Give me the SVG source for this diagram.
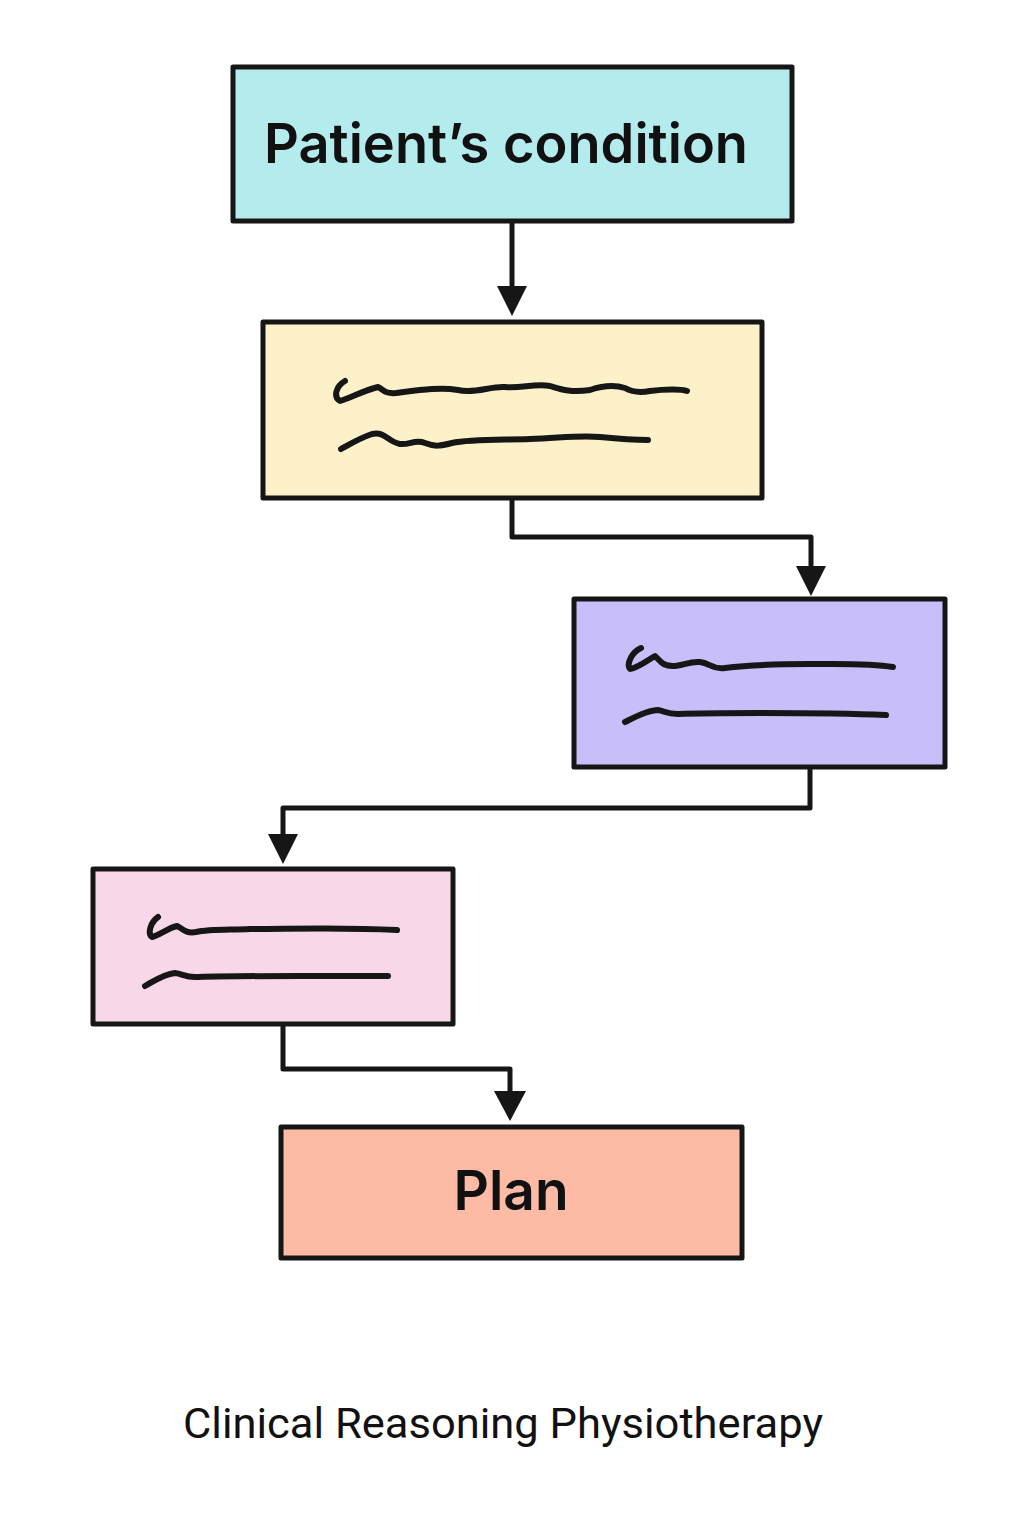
<svg xmlns="http://www.w3.org/2000/svg" width="1024" height="1536" viewBox="0 0 1024 1536">
<style>
.box{stroke:#161616;stroke-width:5;stroke-linejoin:round}
.sq{fill:none;stroke:#161616;stroke-width:6;stroke-linecap:round;stroke-linejoin:round}
.conn{fill:none;stroke:#161616;stroke-width:5;stroke-linejoin:round}
.lbl{font-family:"Inter","Noto Sans",sans-serif;font-weight:600;fill:#111;text-anchor:middle}
.title{font-family:"Roboto","Liberation Sans",sans-serif;fill:#111;text-anchor:middle}
</style>
<rect width="1024" height="1536" fill="#ffffff"/>
<g id="connectors">
<path class="conn" d="M512,221 V286"/>
<path d="M497,286 L527,286 L512,316 Z" fill="#161616"/>
<path class="conn" d="M512,498 V537 H811 V566"/>
<path d="M796,566 L826,566 L811,596 Z" fill="#161616"/>
<path class="conn" d="M810,767 V808 H283 V834"/>
<path d="M268,834 L298,834 L283,864 Z" fill="#161616"/>
<path class="conn" d="M283,1024 V1069 H510 V1091"/>
<path d="M494,1091 L526,1091 L510,1121 Z" fill="#161616"/>
</g>
<g id="node-patient">
<rect class="box" x="233" y="67" width="559" height="154" fill="#b4ecee"/>
<text class="lbl" x="506" y="163" font-size="55" textLength="484" lengthAdjust="spacingAndGlyphs">Patient’s condition</text>
</g>
<g id="node-2">
<rect class="box" x="263" y="322" width="499" height="176" fill="#fdf1c9"/>
<path class="sq" d="M345,381 C336,386 333,397 340,401 C350,398 365,390 378,387 C383,389 384,394 396,393 C420,390 440,387 458,390 C475,394 490,386 505,387 C520,389 535,383 550,386 C560,389 570,393 590,390 C602,386 615,385 625,388 C632,392 640,393 650,391 C665,389 682,389 687,391"/>
<path class="sq" d="M341,449 C350,444 360,438 372,434 C385,431 388,442 400,444 C410,445 415,439 425,443 C435,447 440,446 452,443 C470,439 500,440 530,439 C560,438 580,435 600,437 C620,439 635,440 648,440"/>
</g>
<g id="node-3">
<rect class="box" x="574" y="599" width="371" height="168" fill="#c8bef9"/>
<path class="sq" d="M641,648 C632,652 626,664 630,669 C638,668 648,660 655,656 C660,660 662,667 675,666 C685,665 690,661 700,662 C710,663 712,670 725,668 C750,665 780,664 810,664 C840,664 870,663 893,667"/>
<path class="sq" d="M625,722 C635,717 648,710 658,710 C665,711 666,714 678,714 C700,713 730,713 760,713 C800,713 840,713 886,715"/>
</g>
<g id="node-4">
<rect class="box" x="93" y="869" width="360" height="155" fill="#f8d8e8"/>
<path class="sq" d="M158,917 C151,922 147,933 152,937 C160,935 168,928 177,926 C182,928 185,934 196,932 C210,929 230,930 250,929 C290,929 340,927 397,930"/>
<path class="sq" d="M145,986 C154,981 164,974 175,973 C183,974 186,978 198,977 C230,976 270,976 300,976 C330,976 360,976 388,976"/>
</g>
<g id="node-plan">
<rect class="box" x="281" y="1127" width="461" height="131" fill="#fdbba6"/>
<text class="lbl" x="511" y="1210" font-size="55">Plan</text>
</g>
<text class="title" x="503" y="1438" font-size="43" textLength="640" lengthAdjust="spacingAndGlyphs">Clinical Reasoning Physiotherapy</text>
</svg>
